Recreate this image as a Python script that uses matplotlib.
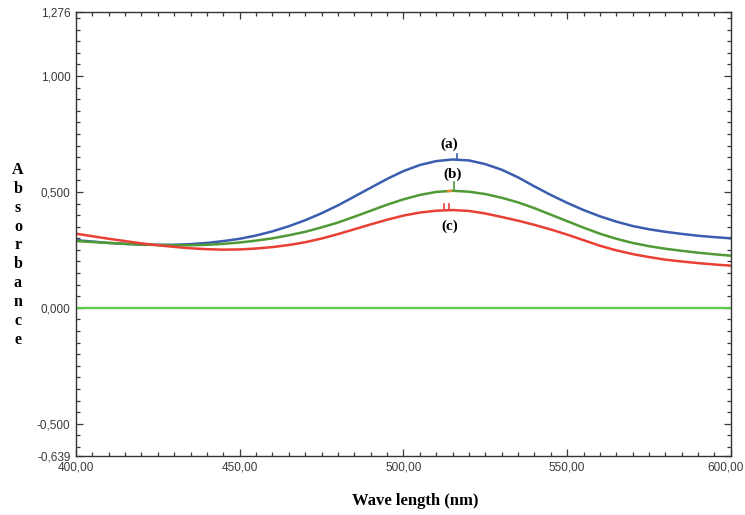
import matplotlib
matplotlib.use("Agg")
import matplotlib.pyplot as plt
import matplotlib.transforms as mtransforms
from matplotlib.ticker import FixedLocator, MultipleLocator

# wavelength grid (nm), every 5 nm
wl = list(range(400, 605, 5))
abs_a = [0.292, 0.286, 0.280, 0.276, 0.273, 0.272, 0.272, 0.275, 0.280, 0.288, 0.298,
         0.312, 0.330, 0.352, 0.378, 0.408, 0.442, 0.480, 0.518, 0.556, 0.590,
         0.616, 0.633, 0.640, 0.636, 0.620, 0.596, 0.563, 0.524, 0.487, 0.453,
         0.422, 0.395, 0.372, 0.353, 0.339, 0.328, 0.319, 0.311, 0.305, 0.300]
abs_b = [0.288, 0.284, 0.280, 0.276, 0.273, 0.271, 0.270, 0.270, 0.272, 0.276, 0.282,
         0.290, 0.300, 0.313, 0.328, 0.347, 0.368, 0.393, 0.419, 0.445, 0.468,
         0.487, 0.500, 0.505, 0.501, 0.491, 0.475, 0.455, 0.430, 0.402, 0.374,
         0.346, 0.320, 0.298, 0.280, 0.266, 0.255, 0.246, 0.238, 0.231, 0.225]
abs_c = [0.320, 0.309, 0.298, 0.288, 0.278, 0.270, 0.263, 0.257, 0.253, 0.251, 0.252,
         0.256, 0.262, 0.271, 0.283, 0.299, 0.318, 0.339, 0.360, 0.380, 0.398,
         0.411, 0.419, 0.422, 0.418, 0.407, 0.392, 0.376, 0.358, 0.338, 0.316,
         0.292, 0.268, 0.248, 0.232, 0.219, 0.208, 0.200, 0.193, 0.187, 0.182]
baseline = [0.0] * len(wl)

y_ticks = [-0.639, -0.5, 0.0, 0.5, 1.0, 1.276]
y_labels = ["-0,639", "-0,500", "0,000", "0,500", "1,000", "1,276"]
x_ticks = [400, 450, 500, 550, 600]
x_labels = ["400,00", "450,00", "500,00", "550,00", "600,00"]

fig = plt.figure(figsize=(7.45, 5.15), dpi=100)
ax = fig.add_axes([0.102, 0.1146, 0.879, 0.862])

ax.plot(wl, baseline, color="#5cc84e", lw=1.6)
ax.plot(wl, abs_a, color="#3a5db0", lw=1.8)
ax.plot(wl, abs_b, color="#4f9a35", lw=1.8)
ax.plot(wl, abs_c, color="#ea3f35", lw=1.8)

ax.set_xlim(400, 600)
ax.set_ylim(-0.639, 1.276)
ax.yaxis.set_major_locator(FixedLocator(y_ticks))
ax.set_yticklabels(y_labels)
ax.yaxis.set_minor_locator(MultipleLocator(0.05))
ax.xaxis.set_major_locator(FixedLocator(x_ticks))
ax.set_xticklabels(x_labels)
ax.xaxis.set_minor_locator(MultipleLocator(5))
ax.tick_params(which="both", direction="in", top=True, right=True,
               colors="#3a3a3a", labelsize=8.5, width=0.9)
ax.tick_params(which="major", length=5, pad=4)
ax.tick_params(which="minor", length=3)
for lab in ax.get_xticklabels() + ax.get_yticklabels():
    lab.set_family("Liberation Sans")
last = ax.get_xticklabels()[-1]
last.set_ha("right")
last.set_transform(last.get_transform() +
                   mtransforms.ScaledTranslation(0.13, 0, fig.dpi_scale_trans))
for s in ax.spines.values():
    s.set_color("#333333")
    s.set_linewidth(1.0)

# peak labels and little markers
serif = ["Liberation Serif", "DejaVu Serif"]
ax.text(514, 0.705, "(a)", family=serif, weight="bold", fontsize=11, ha="center", va="center")
ax.text(515, 0.575, "(b)", family=serif, weight="bold", fontsize=11, ha="center", va="center")
ax.text(514, 0.350, "(c)", family=serif, weight="bold", fontsize=11, ha="center", va="center")
ax.plot([516.5, 516.5], [0.640, 0.665], color="#3a5db0", lw=1.2)
ax.plot([515.5, 515.5], [0.505, 0.545], color="#4f9a35", lw=1.2)
ax.plot([512.5, 512.5], [0.422, 0.450], color="#ea3f35", lw=1.2)
ax.plot([514.0, 514.0], [0.422, 0.450], color="#ea3f35", lw=1.2)
ax.plot([513.5, 514.5], [0.505, 0.505], color="#f08a30", lw=1.6)

fig.text(0.557, 0.027, "Wave length (nm)", family=serif, weight="bold",
         fontsize=12, ha="center", va="center")
fig.text(0.024, 0.505, "\n".join("Absorbance"), family=serif, weight="bold",
         fontsize=11.5, ha="center", va="center", linespacing=1.24)

fig.savefig("out.png", dpi=100)
